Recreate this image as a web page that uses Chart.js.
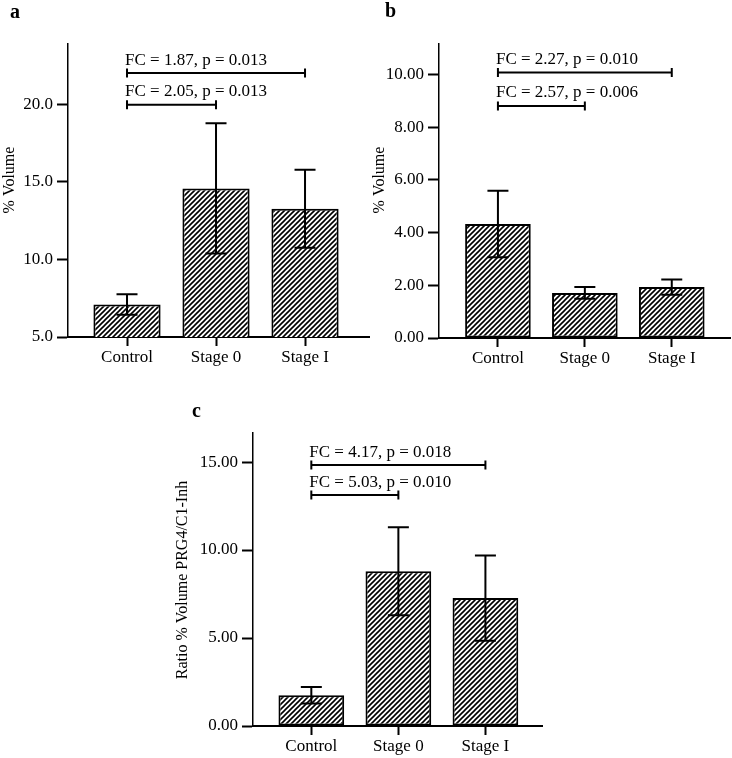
<!DOCTYPE html>
<html>
<head>
<meta charset="utf-8">
<script src="https://cdn.jsdelivr.net/npm/chart.js@4.4.1/dist/chart.umd.min.js"></script>
<style>
  body { margin: 0; background: #fff; width: 732px; height: 758px; position: relative; overflow: hidden; }
  .panel { position: absolute; }
</style>
</head>
<body>
<div class="panel" style="left:0;top:0;width:370px;height:370px"><canvas id="chartA"></canvas></div>
<div class="panel" style="left:370px;top:0;width:362px;height:370px"><canvas id="chartB"></canvas></div>
<div class="panel" style="left:170px;top:370px;width:400px;height:388px"><canvas id="chartC"></canvas></div>
<script>
"use strict";

const categories = ['Control', 'Stage 0', 'Stage I'];

// panel a
const volumeA = [7.1, 14.57, 13.26];
const errorA = [0.66, 4.19, 2.51];
const bracketFromA = [0, 0];
const bracketToA = [2, 1];
const bracketLevelA = [22.0, 19.95];
const bracketTextA = ['FC = 1.87, p = 0.013', 'FC = 2.05, p = 0.013'];

// panel b
const volumeB = [4.32, 1.71, 1.93];
const errorB = [1.26, 0.22, 0.29];
const bracketFromB = [0, 0];
const bracketToB = [2, 1];
const bracketLevelB = [10.07, 8.8];
const bracketTextB = ['FC = 2.27, p = 0.010', 'FC = 2.57, p = 0.006'];

// panel c
const ratioC = [1.75, 8.79, 7.27];
const errorC = [0.47, 2.5, 2.42];
const bracketFromC = [0, 0];
const bracketToC = [2, 1];
const bracketLevelC = [14.83, 13.12];
const bracketTextC = ['FC = 4.17, p = 0.018', 'FC = 5.03, p = 0.010'];

const SERIF = "'Liberation Serif', 'Times New Roman', serif";
Chart.defaults.font.family = SERIF;
Chart.defaults.color = '#000';

function hatch() {
  const s = 5;
  const tile = document.createElement('canvas');
  tile.width = s; tile.height = s;
  const t = tile.getContext('2d');
  t.fillStyle = '#fff';
  t.fillRect(0, 0, s, s);
  t.strokeStyle = '#000';
  t.lineWidth = 1.6;
  t.beginPath();
  t.moveTo(-1, s + 1); t.lineTo(s + 1, -1);
  t.moveTo(-1, 1); t.lineTo(1, -1);
  t.moveTo(s - 1, s + 1); t.lineTo(s + 1, s - 1);
  t.stroke();
  return t.createPattern(tile, 'repeat');
}

const decor = {
  id: 'decor',
  afterDatasetsDraw(chart, args, o) {
    const { ctx } = chart;
    const y = chart.scales.y;
    const bars = chart.getDatasetMeta(0).data;
    const means = chart.data.datasets[0].data.map(d => d.y);
    ctx.save();
    ctx.strokeStyle = '#000';
    ctx.lineWidth = 2;
    o.errors.forEach((e, i) => {
      const cx = bars[i].x;
      const hi = y.getPixelForValue(means[i] + e);
      const lo = y.getPixelForValue(means[i] - e);
      ctx.beginPath();
      ctx.moveTo(cx, hi); ctx.lineTo(cx, lo);
      ctx.moveTo(cx - 10.5, hi); ctx.lineTo(cx + 10.5, hi);
      ctx.moveTo(cx - 10.5, lo); ctx.lineTo(cx + 10.5, lo);
      ctx.stroke();
    });
    ctx.restore();
  },
  afterDraw(chart, args, o) {
    const { ctx } = chart;
    const { x, y } = chart.scales;
    ctx.save();
    ctx.strokeStyle = '#000';
    ctx.fillStyle = '#000';
    ctx.lineWidth = 2;
    ctx.font = '17px ' + SERIF;
    ctx.textAlign = 'left';
    ctx.textBaseline = 'alphabetic';
    o.from.forEach((f, i) => {
      const x1 = x.getPixelForValue(f);
      const x2 = x.getPixelForValue(o.to[i]);
      const ly = y.getPixelForValue(o.level[i]);
      ctx.beginPath();
      ctx.moveTo(x1, ly); ctx.lineTo(x2, ly);
      ctx.moveTo(x1, ly - 4.5); ctx.lineTo(x1, ly + 4.5);
      ctx.moveTo(x2, ly - 4.5); ctx.lineTo(x2, ly + 4.5);
      ctx.stroke();
      ctx.fillText(o.text[i], x1 - 2, ly - 8.5);
    });
    // panel letter
    ctx.font = 'bold 20px ' + SERIF;
    ctx.fillText(o.letter, o.letterX, o.letterY);
    // y axis title
    ctx.font = '16px ' + SERIF;
    ctx.translate(o.titleX, o.titleY);
    ctx.rotate(-Math.PI / 2);
    ctx.textAlign = 'center';
    ctx.textBaseline = 'middle';
    ctx.fillText(o.title, 0, 0);
    ctx.restore();
  }
};

function makeChart(id, p) {
  return new Chart(document.getElementById(id), {
    type: 'bar',
    data: {
      datasets: [{
        data: p.values.map((v, i) => ({ x: i, y: v })),
        backgroundColor: hatch(),
        borderColor: '#000',
        borderWidth: 2,
        borderSkipped: false,
        categoryPercentage: 1,
        barPercentage: 0.755,
      }],
    },
    options: {
      responsive: true,
      maintainAspectRatio: false,
      animation: false,
      events: [],
      layout: { padding: { top: p.padTop, right: p.padRight, left: 0, bottom: 0 } },
      plugins: {
        legend: { display: false },
        tooltip: { enabled: false },
        decor: {
          errors: p.errors,
          from: p.from, to: p.to, level: p.level, text: p.text,
          letter: p.letter, letterX: p.letterX, letterY: p.letterY,
          title: p.title, titleX: p.titleX, titleY: p.titleY,
        },
      },
      scales: {
        x: {
          type: 'linear',
          offset: false,
          min: p.xMin,
          max: p.xMax,
          afterBuildTicks: s => { s.ticks = [0, 1, 2].map(v => ({ value: v })); },
          afterFit: s => { s.height = p.xHeight; },
          ticks: {
            font: { size: 17 },
            padding: 1,
            maxRotation: 0,
            callback: v => categories[v],
          },
          grid: { offset: false, drawOnChartArea: false, drawTicks: true, tickLength: 9, tickWidth: 2, tickColor: '#000' },
          border: { display: true, color: '#000', width: 2 },
        },
        y: {
          min: p.yMin,
          max: p.yMax,
          afterFit: s => { s.width = p.yWidth; },
          ticks: {
            stepSize: p.step,
            includeBounds: false,
            font: { size: 17 },
            padding: 4,
            callback: v => v.toFixed(p.digits),
          },
          grid: { drawOnChartArea: false, drawTicks: true, tickLength: 11, tickWidth: 2, tickColor: '#000' },
          border: { display: true, color: '#000', width: 1.5 },
        },
      },
    },
    plugins: [decor],
  });
}

makeChart('chartA', {
  values: volumeA, errors: errorA,
  from: bracketFromA, to: bracketToA, level: bracketLevelA, text: bracketTextA,
  letter: 'a', letterX: 10, letterY: 18,
  title: '% Volume', titleX: 10, titleY: 180,
  padTop: 44, padRight: 0, xHeight: 33, yWidth: 68,
  xMin: -0.663, xMax: 2.73,
  yMin: 5, yMax: 23.87, step: 5, digits: 1,
});

makeChart('chartB', {
  values: volumeB, errors: errorB,
  from: bracketFromB, to: bracketToB, level: bracketLevelB, text: bracketTextB,
  letter: 'b', letterX: 15, letterY: 17,
  title: '% Volume', titleX: 10, titleY: 180,
  padTop: 44, padRight: 2, xHeight: 32, yWidth: 69,
  xMin: -0.678, xMax: 2.67,
  yMin: 0, yMax: 11.15, step: 2, digits: 2,
});

makeChart('chartC', {
  values: ratioC, errors: errorC,
  from: bracketFromC, to: bracketToC, level: bracketLevelC, text: bracketTextC,
  letter: 'c', letterX: 22, letterY: 47,
  title: 'Ratio % Volume PRG4/C1-Inh', titleX: 13, titleY: 210,
  padTop: 63, padRight: 28, xHeight: 32, yWidth: 83,
  xMin: -0.67, xMax: 2.65,
  yMin: 0, yMax: 16.65, step: 5, digits: 2,
});
</script>
</body>
</html>
